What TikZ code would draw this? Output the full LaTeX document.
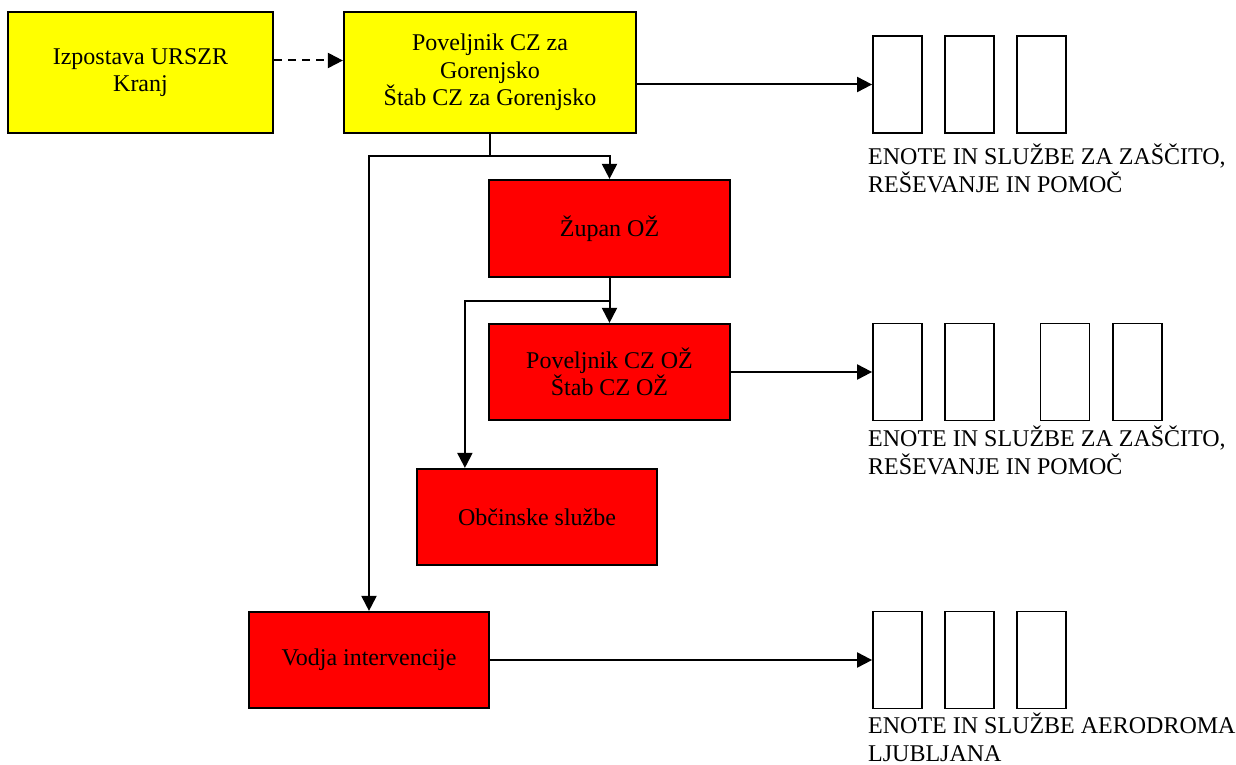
\documentclass[tikz,border=0pt]{standalone}
\usepackage{fontspec}
\setmainfont{Liberation Serif}
\usetikzlibrary{arrows.meta}
\definecolor{yel}{RGB}{255,255,0}
\definecolor{rd}{RGB}{255,0,0}
\begin{document}
\begin{tikzpicture}[x=1pt,y=-1pt,
  every node/.style={font=\fontsize{24}{27.6}\selectfont},
  orgbox/.style={draw, line width=2.2pt, align=center, inner sep=0pt},
  yelbox/.style={orgbox, fill=yel},
  redbox/.style={orgbox, fill=rd},
  unit/.style={draw, line width=1.8pt, minimum width=49pt, minimum height=97pt, inner sep=0pt},
  conn/.style={line width=2pt},
  arr/.style={conn, -{Triangle[length=15pt,width=15pt]}},
  lbl/.style={anchor=north west, align=left, inner sep=0pt}]
\useasboundingbox (0,0) rectangle (1236,765);
% main boxes
\node[yelbox, minimum width=265pt, minimum height=121pt] (izp) at (140.5,72.5) {Izpostava URSZR\\Kranj};
\node[yelbox, minimum width=292pt, minimum height=121pt] (pov) at (490,72.5) {Poveljnik CZ za\\Gorenjsko\\Štab CZ za Gorenjsko};
\node[redbox, minimum width=241pt, minimum height=97pt] (zup) at (609.5,228.5) {Župan OŽ};
\node[redbox, minimum width=241pt, minimum height=96pt] (pov2) at (609.5,372) {Poveljnik CZ OŽ\\Štab CZ OŽ};
\node[redbox, minimum width=240pt, minimum height=96pt] (obc) at (537,517) {Občinske službe};
\node[redbox, minimum width=240pt, minimum height=96pt] (vod) at (369,660) {Vodja intervencije};
% unit groups
\node[unit] (u1a) at (897.5,84.5) {};
\node[unit] (u1b) at (969.5,84.5) {};
\node[unit] (u1c) at (1041.5,84.5) {};
\node[unit] (u2a) at (897.5,372) {};
\node[unit] (u2b) at (969.5,372) {};
\node[unit] (u2c) at (1065,372) {};
\node[unit] (u2d) at (1137.5,372) {};
\node[unit] (u3a) at (897.5,660) {};
\node[unit] (u3b) at (969.5,660) {};
\node[unit] (u3c) at (1041.5,660) {};
% labels
\node[lbl] (t1) at (868,144) {ENOTE IN SLUŽBE ZA ZAŠČITO,\\REŠEVANJE IN POMOČ};
\node[lbl] (t2) at (868,426) {ENOTE IN SLUŽBE ZA ZAŠČITO,\\REŠEVANJE IN POMOČ};
\node[lbl] (t3) at (868,713) {ENOTE IN SLUŽBE AERODROMA\\LJUBLJANA};
% connectors
\coordinate (b1) at (0,156);
\coordinate (b2) at (0,301);
\draw[arr, dash pattern=on 8pt off 6pt] ([yshift=12pt]izp.east) -- ([yshift=12pt]pov.west);
\draw[arr] (pov.east |- u1a.west) -- (u1a.west);
\draw[arr] (pov.south) -- (pov.south |- b1) -| (zup.north);
\draw[arr] (pov.south |- b1) -| (vod.north);
\draw[arr] (zup.south) -- (pov2.north);
\draw[arr] (zup.south |- b2) -| ([xshift=49pt]obc.north west);
\draw[arr] (pov2.east) -- (u2a.west);
\draw[arr] (vod.east) -- (u3a.west);
\end{tikzpicture}
\end{document}
